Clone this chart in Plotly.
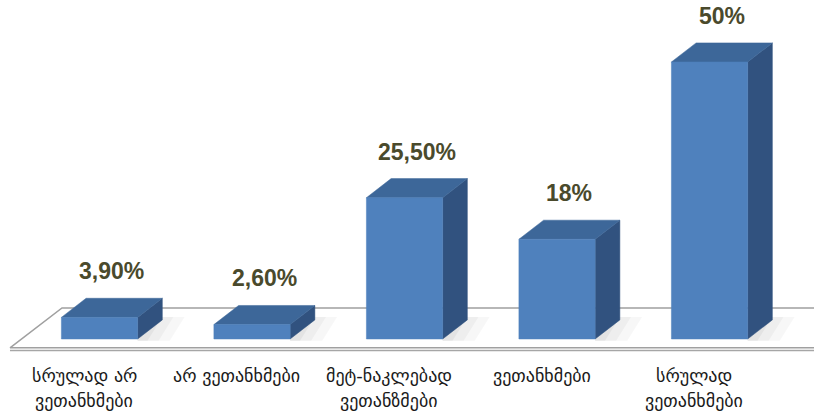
import plotly.graph_objects as go

categories = ["სრულად არ<br>ვეთანხმები", "არ ვეთანხმები", "მეტ-ნაკლებად<br>ვეთანზმები",
              "ვეთანხმები", "სრულად<br>ვეთანხმები"]
values = [3.9, 2.6, 25.5, 18, 50]
value_labels = ["3,90%", "2,60%", "25,50%", "18%", "50%"]

FRONT = "#4F81BD"
TOP = "#3D6799"
SIDE = "#31527F"

HW = 0.25      # half width of bar front face (category units)
DX = 0.162     # depth offset in x (category units)
DY = 3.45      # depth offset in y (percent units)

fig = go.Figure()

n = len(categories)
# floor plate
fx = [-0.587, n - 1 + 0.916, n - 1 + 1.257, -0.246, -0.587]
fy = [-1.6, -1.6, 5.6, 5.6, -1.6]
fig.add_trace(go.Scatter(x=[-0.587, n - 1 + 0.916], y=[-2.1, -2.1], mode="lines",
                         line=dict(color="#A6A6A6", width=1.5), hoverinfo="skip"))
fig.add_trace(go.Scatter(x=fx, y=fy, mode="lines", fill="toself", fillcolor="white",
                         line=dict(color="#A0A0A0", width=1.5), hoverinfo="skip"))

# soft shadows behind bars (layered for a gradient look)
for i, v in enumerate(values):
    for k, a in enumerate([0.03, 0.035, 0.045]):
        ext = 1.9 - k * 0.45
        fig.add_trace(go.Scatter(x=[i + HW, i + HW + DX * ext, i + HW + DX * (ext - 0.6), i + HW],
                                 y=[DY * 1.15, DY * 1.15, -0.3, -0.3], mode="lines", fill="toself",
                                 fillcolor=f"rgba(0,0,0,{a})", line=dict(width=0), hoverinfo="skip"))

for i, v in enumerate(values):
    # side face
    fig.add_trace(go.Scatter(x=[i + HW, i + HW + DX, i + HW + DX, i + HW, i + HW],
                             y=[0, DY, v + DY, v, 0], mode="lines", fill="toself",
                             fillcolor=SIDE, line=dict(color=SIDE, width=0.5), hoverinfo="skip"))
    # top face
    fig.add_trace(go.Scatter(x=[i - HW, i + HW, i + HW + DX, i - HW + DX, i - HW],
                             y=[v, v, v + DY, v + DY, v], mode="lines", fill="toself",
                             fillcolor=TOP, line=dict(color=TOP, width=0.5), hoverinfo="skip"))
    # front face
    fig.add_trace(go.Scatter(x=[i - HW, i + HW, i + HW, i - HW, i - HW],
                             y=[0, 0, v, v, 0], mode="lines", fill="toself",
                             fillcolor=FRONT, line=dict(color=FRONT, width=0.5), hoverinfo="skip"))
    fig.add_annotation(x=i + DX / 2, y=v + DY, text="<b>" + value_labels[i] + "</b>", showarrow=False,
                       yanchor="bottom", yshift=12,
                       font=dict(family="Liberation Sans", size=23, color="#4A4A2C"))

for i, c in enumerate(categories):
    for j, line in enumerate(c.split("<br>")):
        fig.add_annotation(x=i - 0.1, y=-6.5 - j * 4.6, text=line, showarrow=False,
                           yanchor="middle",
                           font=dict(family="DejaVu Sans", size=18, color="#1A1A1A"))

fig.update_layout(
    width=814, height=414,
    margin=dict(l=0, r=0, t=0, b=0),
    paper_bgcolor="white", plot_bgcolor="white",
    showlegend=False,
    hovermode=False,
    xaxis=dict(range=[-0.6525, 4.685], visible=False, fixedrange=True),
    yaxis=dict(range=[-13.54, 61.19], visible=False, fixedrange=True),
)

fig.write_html("out.html", config={"displayModeBar": False, "staticPlot": True},
               post_script="document.body.style.margin='0';")
